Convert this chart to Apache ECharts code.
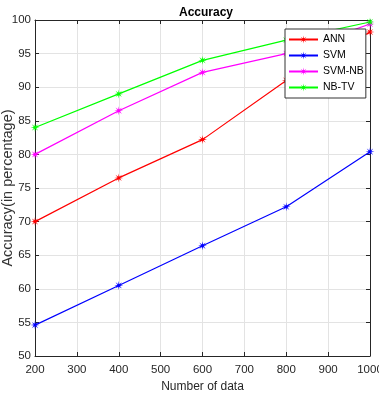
<!DOCTYPE html>
<html>
<head>
<meta charset="utf-8">
<script src="https://cdn.jsdelivr.net/npm/echarts@6/dist/echarts.min.js"></script>
<style>
  html, body { margin: 0; padding: 0; background: #fff; }
  #main { width: 379px; height: 395px; }
</style>
</head>
<body>
<div id="main"></div>
<script>
// data
var xValues = [200, 400, 600, 800, 1000];
var annValues = [70, 76.5, 82.2, 91, 98.2];
var svmValues = [54.6, 60.5, 66.4, 72.2, 80.4];
var svmNbValues = [80, 86.5, 92.2, 95, 99.4];
var nbTvValues = [84, 89, 94, 97, 99.7];

// asterisk-like 8 point star marker
function starPath() {
  var pts = [];
  for (var i = 0; i < 16; i++) {
    var r = i % 2 === 0 ? 10 : 3;
    var a = Math.PI * i / 8;
    pts.push((10 + r * Math.sin(a)).toFixed(2) + " " + (10 - r * Math.cos(a)).toFixed(2));
  }
  return "path://M" + pts.join("L") + "Z";
}
var star = starPath();

function pairs(vals) {
  return xValues.map(function (x, i) { return [x, vals[i]]; });
}

function makeSeries(name, color, vals) {
  return {
    name: name,
    type: "line",
    data: pairs(vals),
    symbol: star,
    symbolSize: 9,
    showAllSymbol: true,
    lineStyle: { color: color, width: 1.2 },
    itemStyle: { color: color },
    emphasis: { disabled: true },
    z: 3
  };
}

var font = "Liberation Sans, Arial, sans-serif";
var myChart = echarts.init(document.getElementById("main"));
myChart.setOption({
  animation: false,
  title: {
    text: "Accuracy",
    left: 201,
    top: 2,
    textAlign: "center",
    textStyle: { fontFamily: font, fontSize: 12, fontWeight: "bold", color: "#000" }
  },
  grid: { left: 35, right: 9, top: 20, bottom: 39, outerBoundsMode: "none", containLabel: false },
  legend: {
    orient: "vertical",
    left: 285,
    top: 29,
    padding: [5, 2, 5, 3],
    itemGap: 5,
    itemWidth: 29,
    itemHeight: 10,
    backgroundColor: "#fff",
    borderColor: "#333",
    borderWidth: 1,
    textStyle: { fontFamily: font, fontSize: 10.5, color: "#000" },
    data: ["ANN", "SVM", "SVM-NB", "NB-TV"]
  },
  xAxis: [{
    type: "value",
    min: 200,
    max: 1000,
    interval: 100,
    name: "Number of data",
    nameLocation: "middle",
    nameGap: 25,
    nameMoveOverlap: false,
    nameTextStyle: { fontFamily: font, fontSize: 12, color: "#262626" },
    axisLine: { lineStyle: { color: "#262626" } },
    axisTick: { inside: true, length: 4, lineStyle: { color: "#262626" } },
    axisLabel: { fontFamily: font, fontSize: 11.5, color: "#262626", margin: 8, formatter: function (v) { return String(v); } },
    splitLine: { show: true, lineStyle: { color: "#e3e3e3", width: 1 } }
  }, {
    type: "value",
    position: "top",
    min: 200,
    max: 1000,
    interval: 100,
    axisLine: { show: true, lineStyle: { color: "#262626" } },
    axisTick: { inside: true, length: 4, lineStyle: { color: "#262626" } },
    axisLabel: { show: false },
    splitLine: { show: false }
  }],
  yAxis: [{
    type: "value",
    min: 50,
    max: 100,
    interval: 5,
    name: "Accuracy(in percentage)",
    nameLocation: "middle",
    nameGap: 20,
    nameMoveOverlap: false,
    nameTextStyle: { fontFamily: font, fontSize: 14.5, color: "#333" },
    axisLine: { show: true, lineStyle: { color: "#262626" } },
    axisTick: { show: true, inside: true, length: 4, lineStyle: { color: "#262626" } },
    axisLabel: { fontFamily: font, fontSize: 11.5, color: "#262626", margin: 4 },
    splitLine: { show: true, lineStyle: { color: "#e3e3e3", width: 1 } }
  }, {
    type: "value",
    position: "right",
    min: 50,
    max: 100,
    interval: 5,
    axisLine: { show: true, lineStyle: { color: "#262626" } },
    axisTick: { show: true, inside: true, length: 4, lineStyle: { color: "#262626" } },
    axisLabel: { show: false },
    splitLine: { show: false }
  }],
  series: [
    makeSeries("ANN", "#ff0000", annValues),
    makeSeries("SVM", "#0000ff", svmValues),
    makeSeries("SVM-NB", "#ff00ff", svmNbValues),
    makeSeries("NB-TV", "#00ff00", nbTvValues)
  ]
});
</script>
</body>
</html>
